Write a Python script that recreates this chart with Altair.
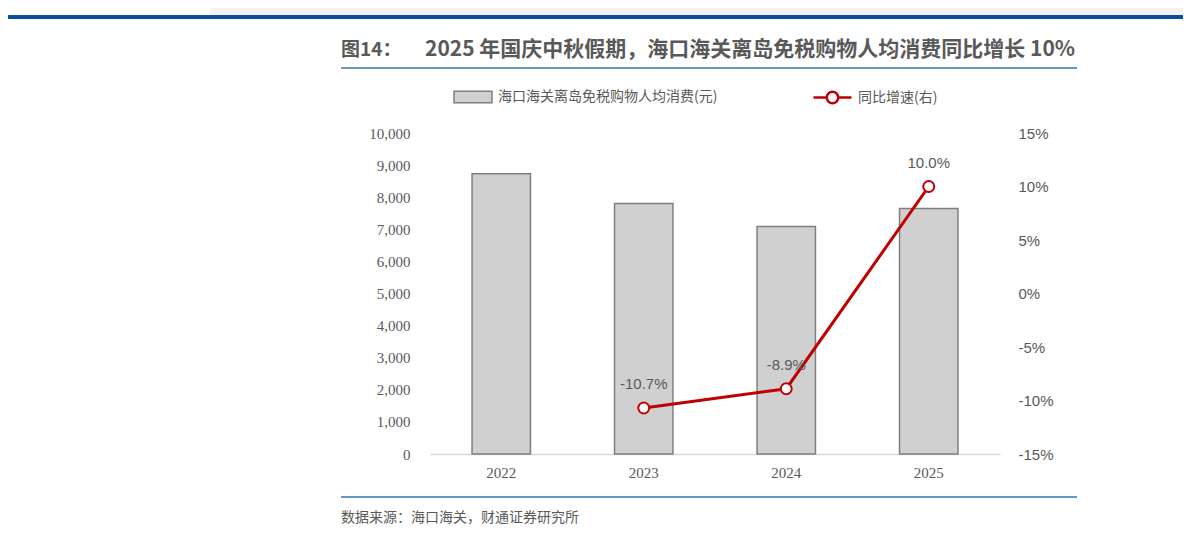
import altair as alt
import pandas as pd

years = ["2022", "2023", "2024", "2025"]
spend = [8730, 7800, 7090, 7650]
yoy = [None, -10.7, -8.9, 10.0]

bar_name = "海口海关离岛免税购物人均消费(元)"
line_name = "同比增速(右)"
title_head = "图14："
title_body = "2025 年国庆中秋假期，海口海关离岛免税购物人均消费同比增长 10%"
source_text = "数据来源：海口海关，财通证券研究所"

left_ticks = list(range(0, 10001, 1000))
right_ticks = [-15, -10, -5, 0, 5, 10, 15]

yoy_labels = ["" if v is None else f"{v:.1f}%" for v in yoy]

df = pd.DataFrame({"year": years, "spend": spend, "yoy": yoy, "lab": yoy_labels,
                   "s1": [bar_name] * 4, "s2": [line_name] * 4})

GRAY = "#595959"
RED = "#C00000"
BLUE = "#2E75B6"

x_enc = alt.X("year:N", title=None,
              scale=alt.Scale(paddingInner=0.59, paddingOuter=0.295),
              axis=alt.Axis(labelAngle=0, ticks=False, grid=False, domain=True,
                            domainColor="#D9D9D9", domainWidth=1.5,
                            labelFont="Liberation Serif", labelFontSize=15, labelColor=GRAY,
                            labelPadding=11))

base = alt.Chart(df)

bars = base.mark_bar(stroke="#7F7F7F", strokeWidth=1.5).encode(
    x=x_enc,
    y=alt.Y("spend:Q", title=None,
            scale=alt.Scale(domain=[0, 10000]),
            axis=alt.Axis(orient="left", values=left_ticks, labelExpr="format(datum.value, ',.0f')",
                          grid=False, domain=False,
                          ticks=False, labelFont="Liberation Serif", labelFontSize=15,
                          labelColor=GRAY, labelPadding=20)),
    fill=alt.Fill("s1:N", scale=alt.Scale(domain=[bar_name], range=["#D0D0D0"]),
                  legend=alt.Legend(title=None, orient="none", legendX=23, legendY=-56,
                                    symbolType="M-1,-0.3H1V0.3H-1Z", symbolSize=1444,
                                    symbolStrokeColor="#7F7F7F", symbolStrokeWidth=1.5,
                                    labelFont="Noto Sans CJK SC", labelFontSize=14,
                                    labelColor=GRAY, labelOffset=5, labelLimit=0, padding=0)),
)

y_right = alt.Y("yoy:Q", title=None,
                scale=alt.Scale(domain=[-15, 15]),
                axis=alt.Axis(orient="right", values=right_ticks, labelExpr="datum.value + '%'",
                              grid=False, domain=False, ticks=False,
                              labelFont="Liberation Sans", labelFontSize=15, labelColor=GRAY,
                              labelPadding=18))

stroke_enc = alt.Stroke("s2:N", scale=alt.Scale(domain=[line_name], range=[RED]),
                        legend=alt.Legend(title=None, orient="none", legendX=382, legendY=-56,
                                          symbolType="M-1,0H-0.3M0.3,0H1M0.3,0A0.3,0.3,0,1,1,-0.3,0A0.3,0.3,0,1,1,0.3,0",
                                          symbolSize=1444, symbolStrokeWidth=2.5,
                                          symbolFillColor="white",
                                          labelFont="Noto Sans CJK SC", labelFontSize=14,
                                          labelColor=GRAY, labelOffset=5, labelLimit=0, padding=0))

line_base = base.transform_filter("isValid(datum.yoy)")

line = line_base.mark_line(strokeWidth=3).encode(x=x_enc, y=y_right, stroke=stroke_enc)
points = line_base.mark_point(filled=False, fill="white", size=120, strokeWidth=2, opacity=1).encode(
    x=x_enc, y=y_right, stroke=stroke_enc)
labels = line_base.mark_text(dy=-24, font="Liberation Sans", fontSize=15, color=GRAY).encode(
    x=x_enc, y=y_right, text="lab:N")

right_layer = alt.layer(line, points, labels)

deco_df = pd.DataFrame({"h": [title_head], "t": [title_body], "s": [source_text]})
deco = alt.Chart(deco_df)
header_bg = deco.mark_rect(color="#F3F3F3").encode(
    x=alt.value(210 - 430), x2=alt.value(1191 - 430), y=alt.value(-133), y2=alt.value(15 - 133))
header_rule = deco.mark_rule(color="#0B4EA2", strokeWidth=4).encode(
    x=alt.value(-430), x2=alt.value(1191 - 430), y=alt.value(17 - 133))
title1 = deco.mark_text(align="left", baseline="middle", font="Noto Sans CJK SC", fontSize=19,
                        fontWeight="bold", color=GRAY).encode(
    text="h:N", x=alt.value(-89), y=alt.value(50 - 133))
title2 = deco.mark_text(align="left", baseline="middle", font="Noto Sans CJK SC", fontSize=21,
                        fontWeight="bold", color=GRAY).encode(
    text="t:N", x=alt.value(425 - 430), y=alt.value(50 - 133))
title_rule = deco.mark_rule(color=BLUE, strokeWidth=1.5).encode(
    x=alt.value(-89), x2=alt.value(647), y=alt.value(68 - 133))
foot_rule = deco.mark_rule(color=BLUE, strokeWidth=1.5).encode(
    x=alt.value(-89), x2=alt.value(647), y=alt.value(497 - 133))
source = deco.mark_text(align="left", baseline="middle", font="Noto Sans CJK SC", fontSize=14,
                        color=GRAY).encode(text="s:N", x=alt.value(-89), y=alt.value(518 - 133))

left_layer = alt.layer(header_bg, header_rule, title1, title2, title_rule, foot_rule, source, bars)

chart = alt.layer(left_layer, right_layer).resolve_scale(y="independent").properties(
    width=570, height=321,
    background="white",
    autosize=alt.AutoSizeParams(type="none"),
    padding={"left": 422, "top": 125, "right": 183, "bottom": 74},
).configure_view(stroke=None, strokeWidth=0)

chart.save("out.html", embed_options={"renderer": "svg", "actions": False})
